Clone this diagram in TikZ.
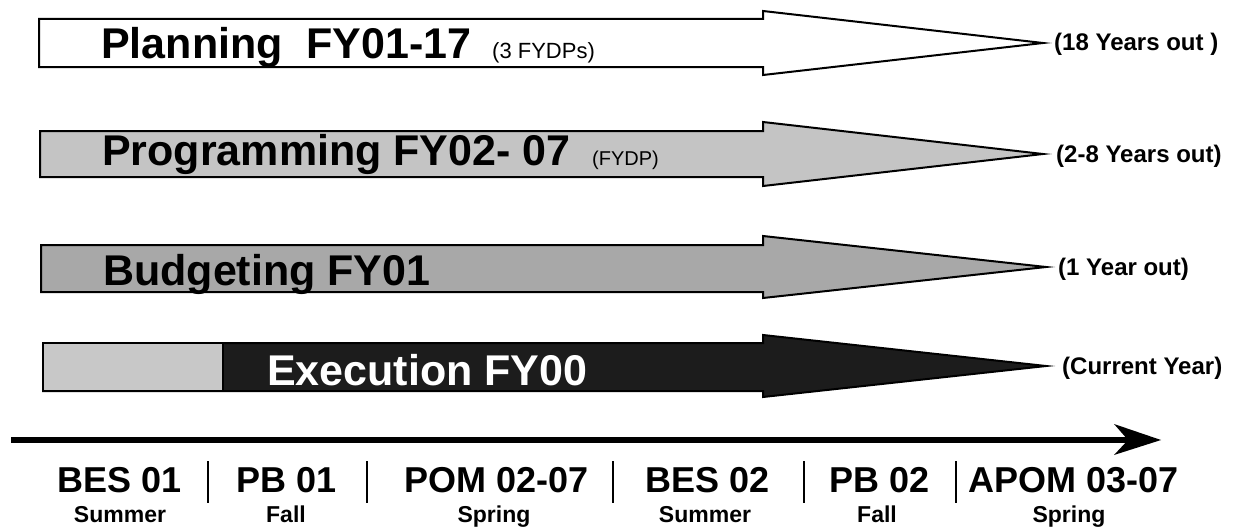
\documentclass[tikz,border=0pt]{standalone}
\usepackage{fontspec}
\setmainfont{Liberation Sans}
\definecolor{progfill}{HTML}{C4C4C4}
\definecolor{budfill}{HTML}{A8A8A8}
\definecolor{exlight}{HTML}{C8C8C8}
\definecolor{exdark}{HTML}{1C1C1C}
\tikzset{
  blockarrow/.style={draw=black, line width=2pt, line join=miter},
  bigtxt/.style={inner sep=0pt, anchor=base west, font=\fontsize{43}{50}\selectfont\bfseries},
  smalltxt/.style={inner sep=0pt, anchor=base west, font=\fontsize{22}{26}\selectfont},
  sidetxt/.style={inner sep=0pt, anchor=base west, font=\fontsize{24}{28}\selectfont\bfseries},
  phasetxt/.style={inner sep=0pt, anchor=base, font=\fontsize{36}{40}\selectfont\bfseries},
  seasontxt/.style={inner sep=0pt, anchor=base, font=\fontsize{23}{26}\selectfont\bfseries},
  divider/.style={line width=2.6pt},
}
\begin{document}
\begin{tikzpicture}[x=1pt,y=-1pt]
\useasboundingbox (0,0) rectangle (1233,527);
% Planning arrow
\draw[blockarrow, fill=white] (39,19) -- (763,19) -- (763,11) -- (1043,43) -- (763,75) -- (763,67) -- (39,67) -- cycle;
% Programming arrow
\draw[blockarrow, fill=progfill] (40,131) -- (763,131) -- (763,122) -- (1043,154) -- (763,186) -- (763,177) -- (40,177) -- cycle;
% Budgeting arrow
\draw[blockarrow, fill=budfill] (41,245) -- (763,245) -- (763,236) -- (1046,267) -- (763,298) -- (763,292) -- (41,292) -- cycle;
% Execution arrow
\draw[blockarrow, fill=exdark] (43,343) -- (763,343) -- (763,335) -- (1046,366) -- (763,397) -- (763,391) -- (43,391) -- cycle;
\draw[blockarrow, fill=exlight] (43,343) rectangle (223,391);

% main texts
\node[bigtxt] (plan) at (101,59) {Planning\ \ FY01-17};
\node[smalltxt] (planx) at (492,59) {(3 FYDPs)};
\node[bigtxt] (prog) at (102,165) {Programming FY02- 07};
\node[smalltxt, font=\fontsize{20}{24}\selectfont] (progx) at (592,165) {(FYDP)};
\node[bigtxt] (bud) at (103,285) {Budgeting FY01};
\node[bigtxt, text=white] (exe) at (267,385) {Execution FY00};

% side labels
\node[sidetxt] (s1) at (1054,51) {(18 Years out )};
\node[sidetxt] (s2) at (1056,162) {(2-8 Years out)};
\node[sidetxt] (s3) at (1058,275) {(1 Year out)};
\node[sidetxt] (s4) at (1062,374) {(Current Year)};

% timeline
\coordinate (tl0) at (11,440);
\coordinate (tl1) at (1130,440);
\coordinate (tltip) at (1161,440);
\draw[line width=6pt] (tl0) -- (tl1);
\fill (tltip) -- (1114,424) -- (1128,440) -- (1114,455) -- cycle;

% phases
\node[phasetxt] (p1) at (120,492) {BES 01};
\node[phasetxt] (p2) at (287,492) {PB 01};
\node[phasetxt] (p3) at (497,492) {POM 02-07};
\node[phasetxt] (p4) at (708,492) {BES 02};
\node[phasetxt] (p5) at (880,492) {PB 02};
\node[phasetxt] (p6) at (1074,492) {APOM 03-07};

\coordinate (d1a) at (208,461); \coordinate (d1b) at (208,503);
\coordinate (d2a) at (367,461); \coordinate (d2b) at (367,503);
\coordinate (d3a) at (613,461); \coordinate (d3b) at (613,503);
\coordinate (d4a) at (804,461); \coordinate (d4b) at (804,503);
\coordinate (d5a) at (956,461); \coordinate (d5b) at (956,503);
\draw[divider] (d1a) -- (d1b);
\draw[divider] (d2a) -- (d2b);
\draw[divider] (d3a) -- (d3b);
\draw[divider] (d4a) -- (d4b);
\draw[divider] (d5a) -- (d5b);

% seasons
\node[seasontxt] (q1) at (120,522) {Summer};
\node[seasontxt] (q2) at (286,522) {Fall};
\node[seasontxt] (q3) at (494,522) {Spring};
\node[seasontxt] (q4) at (705,522) {Summer};
\node[seasontxt] (q5) at (877,522) {Fall};
\node[seasontxt] (q6) at (1069,522) {Spring};
\end{tikzpicture}
\end{document}
